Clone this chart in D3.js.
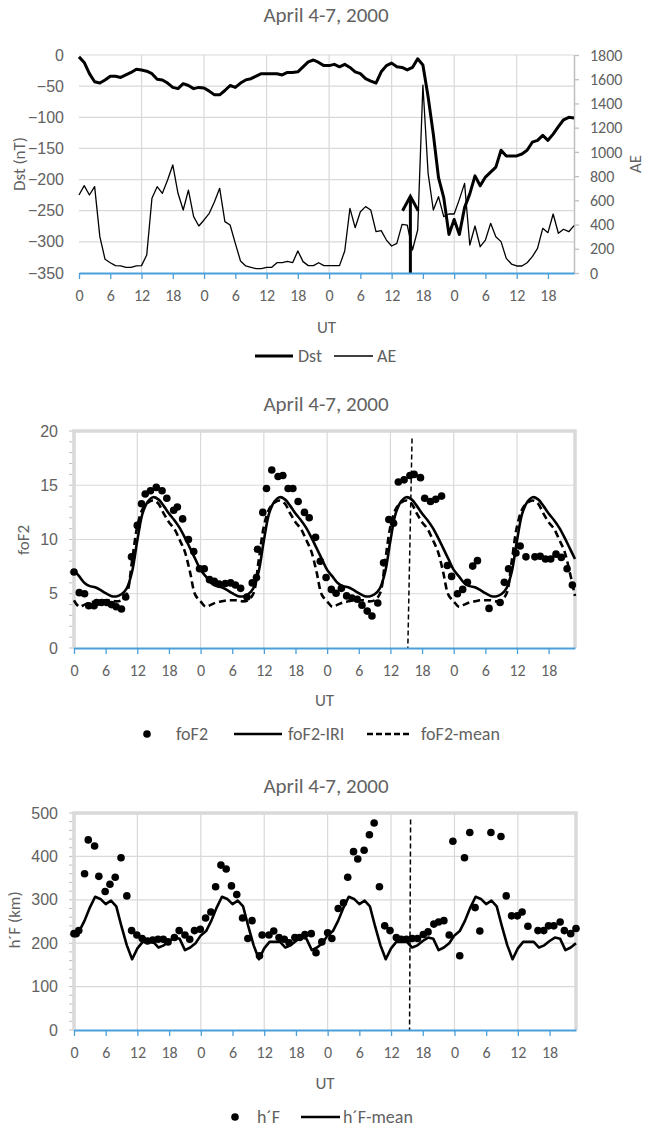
<!DOCTYPE html>
<html><head><meta charset="utf-8">
<script src="https://cdn.jsdelivr.net/npm/d3@7/dist/d3.min.js"></script>
<style>
body{margin:0;background:#fff;}
svg{display:block;}
</style></head><body>
<svg id="c" width="650" height="1127"></svg>
<script>
// ---------- DATA ----------
const titleText = "April 4-7, 2000";
const xTickHours = [0,6,12,18,24,30,36,42,48,54,60,66,72,78,84,90];
const xTickLabels = ["0","6","12","18","0","6","12","18","0","6","12","18","0","6","12","18"];
const xGridHours = [12,24,36,48,60,72,84];

const dstTicks = [0,-50,-100,-150,-200,-250,-300,-350];
const aeTicks = [0,200,400,600,800,1000,1200,1400,1600,1800];
const foF2Ticks = [0,5,10,15,20];
const hFTicks = [0,100,200,300,400,500];

// Dst (nT), hourly, April 4-7 2000
const dst = [
 -3,-12,-30,-43,-45,-40,-34,-34,-36,-32,-28,-23,-24,-26,-30,-39,-40,-45,-52,-54,-46,-49,-54,-52,
 -53,-58,-64,-64,-57,-49,-52,-45,-40,-38,-34,-30,-30,-30,-30,-32,-28,-28,-27,-19,-11,-8,-12,-17,
 -17,-15,-19,-15,-20,-27,-30,-38,-42,-45,-27,-17,-13,-19,-20,-24,-20,-6,-16,-67,-127,-197,-229,-288,
 -264,-288,-245,-223,-194,-210,-196,-188,-180,-153,-162,-162,-162,-159,-153,-140,-137,-129,-137,-127,-115,-104,-100,-101
];
// AE (nT), hourly
const ae = [
 644,721,644,713,300,113,85,61,58,47,47,58,61,149,617,713,658,768,892,658,520,685,465,388,
 438,493,589,699,424,396,245,99,58,47,36,36,47,47,85,85,96,85,182,94,61,61,85,61,
 61,61,61,182,534,374,506,548,520,341,350,272,223,245,402,396,190,355,1552,823,520,630,465,487,
 487,608,740,231,388,217,272,410,300,259,121,74,58,58,85,135,204,369,333,487,328,361,341,391
];
// storm sudden commencement arrow
const sscHour = 63.6;
const arrowTipDst = -227;
const arrowWingDst = -250;
const arrowWingHalfHours = 1.5;

// foF2-IRI (MHz), hourly
const foF2IRI = [
 7.2,6.6,6.0,5.7,5.6,5.35,5.05,4.8,4.75,4.95,5.5,7.0,9.9,12.4,13.5,13.9,13.7,13.1,12.4,11.8,11.1,10.2,9.2,8.2,
 7.2,6.6,6.0,5.7,5.6,5.35,5.05,4.8,4.75,4.95,5.5,7.0,9.9,12.4,13.5,13.9,13.7,13.1,12.4,11.8,11.1,10.2,9.2,8.2,
 7.2,6.6,6.0,5.7,5.6,5.35,5.05,4.8,4.75,4.95,5.5,7.0,9.9,12.4,13.5,13.9,13.7,13.1,12.4,11.8,11.1,10.2,9.2,8.2,
 7.2,6.6,6.0,5.7,5.6,5.35,5.05,4.8,4.75,4.95,5.5,7.0,9.9,12.4,13.5,13.9,13.7,13.1,12.4,11.8,11.1,10.2,9.2,8.2
];
// foF2-mean (MHz), hourly
const foF2Mean = [
 4.4,3.8,4.0,4.2,4.3,4.4,4.4,4.4,4.3,4.4,5.0,8.0,11.2,12.8,13.4,13.6,13.3,12.4,11.6,11.0,10.0,8.9,7.0,4.9,
 4.3,3.8,4.0,4.2,4.3,4.4,4.4,4.4,4.3,4.4,5.0,8.0,11.2,12.8,13.4,13.6,13.3,12.4,11.6,11.0,10.0,8.9,7.0,4.9,
 4.3,3.8,4.0,4.2,4.3,4.4,4.4,4.4,4.3,4.4,5.0,8.0,11.2,12.8,13.4,13.6,13.3,12.4,11.6,11.0,10.0,8.9,7.0,4.9,
 4.3,3.8,4.0,4.2,4.3,4.4,4.4,4.4,4.3,4.4,5.0,8.0,11.2,12.8,13.4,13.6,13.3,12.4,11.6,11.0,10.0,8.9,7.0,4.8
];
// observed foF2: time (hours from Apr 4 00 UT) and value
const foF2ObsHour = [0,1,2,2.8,3.8,4.3,5.2,6.2,7.1,8.0,9.0,9.8,10.9,12.0,12.8,13.5,14.5,15.6,16.7,17.6,18.9,19.6,20.6,21.7,22.7,23.8,
 24.7,25.7,26.6,27.5,28.7,29.7,30.6,31.6,32.8,33.8,34.6,34.8,35.8,36.5,37.5,38.7,39.6,40.6,41.5,42.5,43.7,44.6,45.8,46.7,47.8,
 48.8,49.7,50.7,51.7,52.7,53.7,54.6,55.6,56.5,57.6,58.7,59.7,60.6,61.5,62.6,63.7,64.5,65.7,66.5,67.6,68.6,69.7,70.8,71.6,
 72.7,73.7,74.6,75.6,76.5,78.7,80.8,81.6,82.4,83.8,84.6,85.7,87.4,88.4,89.4,90.4,91.4,92.4,93.5,94.5];
const foF2ObsValue = [7.0,5.1,5.0,3.9,3.9,4.2,4.2,4.2,4.0,3.8,3.6,4.7,8.4,11.3,13.3,14.2,14.5,14.8,14.5,13.8,12.7,13.0,11.9,10.0,8.9,7.3,
 7.3,6.3,6.15,5.9,5.95,6.0,5.8,5.5,4.7,6.0,6.5,9.1,12.5,14.7,16.4,15.8,15.9,14.7,14.7,13.5,12.5,12.0,10.2,8.0,6.5,
 5.4,5.05,5.5,4.8,4.6,4.5,3.95,3.4,2.95,4.15,7.85,11.85,11.5,15.3,15.5,15.9,16.0,15.7,13.8,13.5,13.7,14.0,7.6,6.6,
 5.0,5.4,6.05,7.55,8.05,3.65,4.2,6.05,7.3,8.75,9.4,8.4,8.4,8.45,8.2,8.2,8.65,8.35,7.3,5.8];

// h'F-mean (km), hourly
const hFMean = [
 220,228,252,282,307,302,290,298,285,238,195,163,188,203,203,203,190,195,205,213,210,184,190,200,
 218,228,252,282,307,302,290,298,285,238,195,163,188,203,203,203,190,195,205,213,210,184,190,200,
 218,228,252,282,307,302,290,298,285,238,195,163,188,203,203,203,190,195,205,213,210,184,190,200,
 218,228,252,282,307,302,290,298,285,238,195,163,188,203,203,203,190,195,205,213,210,184,190,200
];
// observed h'F
const hFObsHour = [0,0.4,0.9,2.0,2.7,3.9,4.7,5.9,6.8,7.8,8.9,10.0,10.9,11.9,12.9,13.9,14.9,15.9,16.9,17.8,19.0,19.9,21.0,21.9,22.8,23.9,
 24.9,25.9,26.8,27.8,28.8,29.8,30.8,31.9,32.9,33.7,35.1,35.6,36.9,37.8,38.8,39.8,40.7,41.8,42.7,43.7,44.9,45.8,46.9,
 48.0,48.8,50.0,51.0,51.8,52.9,53.7,54.9,55.9,56.8,57.8,58.8,59.8,61.0,61.9,62.9,64.0,65.0,66.1,67.0,68.1,69.0,70.0,71.0,
 71.7,73.0,73.9,74.9,75.9,76.8,78.9,80.8,81.8,82.8,83.9,84.8,85.9,87.8,88.9,89.8,90.8,92.0,92.8,94.0,95.0];
const hFObsValue = [222,222,229,360,438,424,354,319,336,352,397,309,229,219,211,205,207,209,209,203,213,229,219,209,229,232,
 258,272,330,380,371,332,312,258,211,252,171,219,219,228,213,209,201,213,213,220,222,178,203,
 224,211,280,293,352,411,394,414,450,477,330,240,229,213,209,209,211,211,220,226,244,249,252,219,
 435,171,397,455,282,228,455,446,309,263,263,272,239,229,229,240,240,249,229,222,234];

// ---------- STYLE ----------
const FONT = "Carlito, Calibri, Lato, sans-serif";
const TXT = "#626262", GRID = "#D9D9D9", BLUE = "#4A9FDB";
const TICK_FS = 16, TITLE_FS = 21, AXT_FS = 17, LEG_FS = 18;
const hours = d3.range(dst.length);
const svg = d3.select("#c").style("font-family", FONT);

function styleAxis(g, domainColor, domainWidth, tickColor, fs) {
  g.select(".domain").attr("stroke", domainColor).attr("stroke-width", domainWidth);
  g.selectAll(".tick line").attr("stroke", tickColor).attr("stroke-width", 1.3);
  g.selectAll(".tick text").attr("fill", TXT).style("font-size", fs + "px").style("font-family", FONT);
}

function bottomAxis(x, yPix, utY) {
  const g = svg.append("g").attr("transform", `translate(0,${yPix})`)
    .call(d3.axisBottom(x).tickValues(xTickHours).tickFormat((d,i)=>xTickLabels[i])
      .tickSize(6).tickSizeOuter(0).tickPadding(11));
  styleAxis(g, BLUE, 2, BLUE, TICK_FS);
  svg.append("text").attr("x", (x.range()[0]+x.range()[1])/2).attr("y", utY)
    .attr("text-anchor","middle").attr("fill",TXT).style("font-size",AXT_FS+"px").text("UT");
}

function title(y) {
  svg.append("text").attr("x", 326).attr("y", y).attr("text-anchor","middle")
    .attr("fill", TXT).style("font-size",TITLE_FS+"px").text(titleText);
}

function yTitle(txt, x, y) {
  svg.append("text").attr("transform",`translate(${x},${y}) rotate(-90)`)
    .attr("text-anchor","middle").attr("fill",TXT).style("font-size",AXT_FS+"px").text(txt);
}

function grid(x, y, yVals) {
  const [x0,x1] = x.range();
  svg.append("g").selectAll("line.h").data(yVals).join("line")
    .attr("x1",x0).attr("x2",x1).attr("y1",d=>y(d)).attr("y2",d=>y(d))
    .attr("stroke",GRID).attr("stroke-width",1.2);
  const [yb,yt] = y.range();
  svg.append("g").selectAll("line.v").data(xGridHours).join("line")
    .attr("x1",d=>x(d)).attr("x2",d=>x(d)).attr("y1",yt).attr("y2",yb)
    .attr("stroke",GRID).attr("stroke-width",1.2);
}

// ---------- PANEL 1 : Dst / AE ----------
{
  const x = d3.scaleLinear().domain([0,95]).range([79,574]);
  const y = d3.scaleLinear().domain([-350,0]).range([273,55]);
  const yR = d3.scaleLinear().domain([0,1800]).range([273,55]);
  title(22);
  grid(x, y, dstTicks.filter(d=>d>-350));
  const gl = svg.append("g").attr("transform","translate(79,0)")
    .call(d3.axisLeft(y).tickValues(dstTicks).tickSize(0).tickPadding(15));
  gl.select(".domain").remove();
  gl.selectAll(".tick text").attr("fill",TXT).style("font-size",TICK_FS+"px");
  const gr = svg.append("g").attr("transform","translate(574,0)")
    .call(d3.axisRight(yR).tickValues(aeTicks).tickFormat(d3.format("d")).tickSize(5).tickSizeOuter(0).tickPadding(11));
  styleAxis(gr, "#BFBFBF", 1.5, "#BFBFBF", TICK_FS);
  yTitle("Dst (nT)", 25, 164);
  svg.append("text").attr("transform","translate(641,164) rotate(-90)")
    .attr("text-anchor","middle").attr("fill",TXT).style("font-size",AXT_FS+"px").text("AE");

  svg.append("path").datum(hours).attr("fill","none").attr("stroke","#000").attr("stroke-width",1.3)
    .attr("stroke-linejoin","round")
    .attr("d", d3.line().x(d=>x(d)).y(d=>yR(ae[d])));
  svg.append("path").datum(hours).attr("fill","none").attr("stroke","#000").attr("stroke-width",3)
    .attr("stroke-linejoin","round")
    .attr("d", d3.line().x(d=>x(d)).y(d=>y(dst[d])));
  svg.append("line").attr("x1",x(sscHour)).attr("x2",x(sscHour)).attr("y1",y(-350)).attr("y2",y(arrowTipDst))
    .attr("stroke","#000").attr("stroke-width",3);
  svg.append("path").attr("fill","none").attr("stroke","#000").attr("stroke-width",3)
    .attr("stroke-linejoin","miter")
    .attr("d", d3.line()([[x(sscHour-arrowWingHalfHours),y(arrowWingDst)],[x(sscHour),y(arrowTipDst)],[x(sscHour+arrowWingHalfHours),y(arrowWingDst)]]));
  bottomAxis(x, 273, 333);
  const lg = svg.append("g");
  lg.append("line").attr("x1",255).attr("x2",293).attr("y1",356).attr("y2",356).attr("stroke","#000").attr("stroke-width",3);
  lg.append("text").attr("x",298).attr("y",362).attr("fill",TXT).style("font-size",LEG_FS+"px").text("Dst");
  lg.append("line").attr("x1",334).attr("x2",373).attr("y1",356).attr("y2",356).attr("stroke","#000").attr("stroke-width",1.3);
  lg.append("text").attr("x",377).attr("y",362).attr("fill",TXT).style("font-size",LEG_FS+"px").text("AE");
}

function framedPanel(x, y, ticks, minorStep) {
  const [x0,x1] = x.range(); const [yb,yt] = y.range();
  const minors = d3.range(y.domain()[0], y.domain()[1]+1e-9, minorStep);
  svg.append("g").selectAll("line").data(minors).join("line")
    .attr("x1",x0-5).attr("x2",x0).attr("y1",d=>y(d)).attr("y2",d=>y(d))
    .attr("stroke","#BFBFBF").attr("stroke-width",1);
  svg.append("path").attr("fill","none").attr("stroke",GRID).attr("stroke-width",3.5)
    .attr("d",`M${x0},${yb}V${yt}H${x1}V${yb}`);
  const gl = svg.append("g").attr("transform",`translate(${x0},0)`)
    .call(d3.axisLeft(y).tickValues(ticks).tickSize(0).tickPadding(16));
  gl.select(".domain").remove();
  gl.selectAll(".tick text").attr("fill",TXT).style("font-size",TICK_FS+"px");
}

// ---------- PANEL 2 : foF2 ----------
{
  const x = d3.scaleLinear().domain([0,95]).range([74,575]);
  const y = d3.scaleLinear().domain([0,20]).range([648,431]);
  title(411);
  grid(x, y, [5,10,15]);
  framedPanel(x, y, foF2Ticks, 1);
  yTitle("foF2", 29, 540);
  svg.append("path").datum(hours).attr("fill","none").attr("stroke","#000").attr("stroke-width",2.6)
    .attr("stroke-dasharray","7,4")
    .attr("d", d3.line().curve(d3.curveCatmullRom).x(d=>x(d)).y(d=>y(foF2Mean[d])));
  svg.append("path").datum(hours).attr("fill","none").attr("stroke","#000").attr("stroke-width",2.6)
    .attr("d", d3.line().curve(d3.curveCatmullRom).x(d=>x(d)).y(d=>y(foF2IRI[d])));
  svg.append("g").selectAll("circle").data(foF2ObsHour).join("circle")
    .attr("cx",d=>x(d)).attr("cy",(d,i)=>y(foF2ObsValue[i])).attr("r",3.8).attr("fill","#000");
  svg.append("line").attr("x1",x(64.1)).attr("x2",x(63.3)).attr("y1",y(19.3)).attr("y2",y(0))
    .attr("stroke","#000").attr("stroke-width",1.5).attr("stroke-dasharray","5,3");
  bottomAxis(x, 648, 706);
  const lg = svg.append("g");
  lg.append("circle").attr("cx",147).attr("cy",734).attr("r",3.8).attr("fill","#000");
  lg.append("text").attr("x",176).attr("y",740).attr("fill",TXT).style("font-size",LEG_FS+"px").text("foF2");
  lg.append("line").attr("x1",234).attr("x2",282).attr("y1",734).attr("y2",734).attr("stroke","#000").attr("stroke-width",2.6);
  lg.append("text").attr("x",288).attr("y",740).attr("fill",TXT).style("font-size",LEG_FS+"px").text("foF2-IRI");
  lg.append("line").attr("x1",367).attr("x2",412).attr("y1",734).attr("y2",734).attr("stroke","#000").attr("stroke-width",2.6).attr("stroke-dasharray","6,3");
  lg.append("text").attr("x",421).attr("y",740).attr("fill",TXT).style("font-size",LEG_FS+"px").text("foF2-mean");
}

// ---------- PANEL 3 : h'F ----------
{
  const x = d3.scaleLinear().domain([0,95]).range([74,576]);
  const y = d3.scaleLinear().domain([0,500]).range([1030,813]);
  title(793);
  grid(x, y, [100,200,300,400]);
  framedPanel(x, y, hFTicks, 20);
  yTitle("h´F (km)", 20, 920);
  svg.append("path").datum(hours).attr("fill","none").attr("stroke","#000").attr("stroke-width",2.6)
    .attr("stroke-linejoin","round")
    .attr("d", d3.line().x(d=>x(d)).y(d=>y(hFMean[d])));
  svg.append("g").selectAll("circle").data(hFObsHour).join("circle")
    .attr("cx",d=>x(d)).attr("cy",(d,i)=>y(hFObsValue[i])).attr("r",3.8).attr("fill","#000");
  svg.append("line").attr("x1",x(63.7)).attr("x2",x(63.5)).attr("y1",y(485)).attr("y2",y(0))
    .attr("stroke","#000").attr("stroke-width",1.5).attr("stroke-dasharray","5,3");
  bottomAxis(x, 1030, 1089);
  const lg = svg.append("g");
  lg.append("circle").attr("cx",235).attr("cy",1117).attr("r",3.8).attr("fill","#000");
  lg.append("text").attr("x",257).attr("y",1123).attr("fill",TXT).style("font-size",LEG_FS+"px").text("h´F");
  lg.append("line").attr("x1",301).attr("x2",340).attr("y1",1117).attr("y2",1117).attr("stroke","#000").attr("stroke-width",2.6);
  lg.append("text").attr("x",343).attr("y",1123).attr("fill",TXT).style("font-size",LEG_FS+"px").text("h´F-mean");
}
</script>
</body></html>
